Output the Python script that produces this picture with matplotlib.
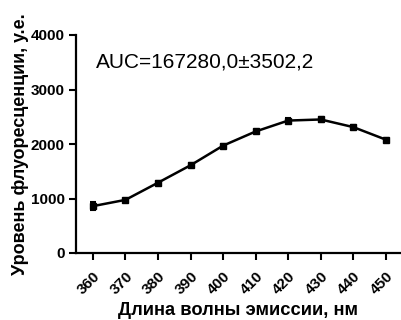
import matplotlib
matplotlib.use("Agg")
import matplotlib.pyplot as plt

wavelength = [360, 370, 380, 390, 400, 410, 420, 430, 440, 450]
fluor = [860, 975, 1290, 1610, 1970, 2230, 2430, 2450, 2310, 2080]
err = [70, 25, 30, 40, 35, 35, 40, 45, 35, 25]
yticks = [0, 1000, 2000, 3000, 4000]

plt.rcParams['font.family'] = ['Liberation Sans', 'DejaVu Sans']

fig = plt.figure(figsize=(4.02, 3.2), dpi=100)
ax = fig.add_axes([76/402, 1-253/320, 1-76/402-0.003, 218/320])

ax.errorbar(wavelength, fluor, yerr=err, color='black', lw=1.8, marker='s',
            ms=4.5, capsize=2.5, elinewidth=1.5, capthick=1.5)

ax.set_xlim(354.8, 454.6)
ax.set_ylim(0, 4000)
ax.set_xticks(wavelength)
ax.set_yticks(yticks)
ax.set_xticklabels([str(w) for w in wavelength], rotation=45, ha='right',
                   rotation_mode='anchor', fontweight='bold', fontsize=11)
ax.set_yticklabels([str(t) for t in yticks], fontweight='bold', fontsize=11)
for s in ['top', 'right']:
    ax.spines[s].set_visible(False)
for s in ['left', 'bottom']:
    ax.spines[s].set_linewidth(1.6)
ax.tick_params(width=1.5, length=5)
ax.tick_params(axis='x', pad=7)
ax.tick_params(axis='y', pad=3)

ax.set_xlabel('Длина волны эмиссии, нм', fontweight='bold', fontsize=13.2, labelpad=3)
ax.set_ylabel('Уровень флуоресценции, у.е.', fontweight='bold', fontsize=13, labelpad=1)

ax.text(0.06, 0.875, 'AUC=167280,0±3502,2', transform=ax.transAxes,
        fontsize=15, ha='left', va='center')

fig.savefig('out.png', dpi=100)
